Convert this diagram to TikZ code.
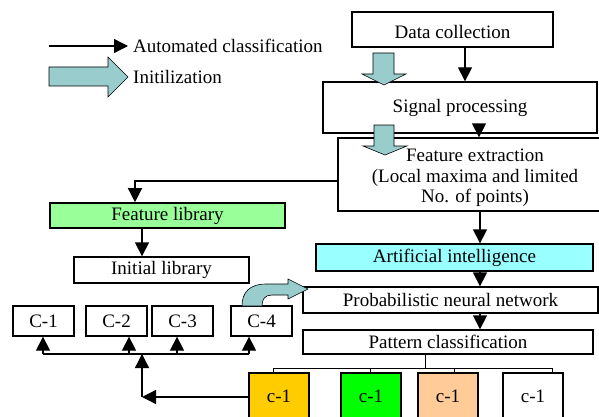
\documentclass[tikz,border=0pt]{standalone}
\usepackage{fontspec}
\setmainfont{Liberation Serif}
\usetikzlibrary{arrows.meta,calc}
\definecolor{tealc}{HTML}{99CCCC}
\definecolor{flgreen}{HTML}{99FF99}
\definecolor{aicyan}{HTML}{99FFFF}
\definecolor{yelc}{HTML}{FFCC00}
\definecolor{grnc}{HTML}{00FF00}
\definecolor{peachc}{HTML}{FFCC99}
\begin{document}
\begin{tikzpicture}[x=1pt,y=-1pt,
  box/.style={draw, line width=1.3pt, inner sep=0pt, font=\fontsize{19}{21}\selectfont},
  lbl/.style={inner sep=0pt, font=\fontsize{19}{21}\selectfont},
  arr/.style={line width=1.3pt, -{Triangle[width=14pt,length=14pt]}},
  thinline/.style={line width=0.9pt},
  tealarrow/.style={fill=tealc, draw=black, line width=0.6pt}]
\clip (0,0) rectangle (599,417);
\fill[white] (0,0) rectangle (599,417);

% legend
\coordinate (lg1) at (49,46);
\coordinate (lg2) at (128,46);
\node[lbl, anchor=west] (lgt1) at (133,46) {Automated classification};
\draw[arr] (lg1) -- (lg2);
\draw[tealarrow] (49,67) -- (108,67) -- (108,57) -- (128,77) -- (108,97) -- (108,86) -- (49,86) -- cycle;
\node[lbl, anchor=west] (lgt2) at (133,77) {Initilization};

% right column
\node[box, minimum width=201pt, minimum height=35pt] (dc) at (452.5,29.5) {};
\node[lbl] (dct) at (452.5,32.5) {Data collection};
\node[box, minimum width=274pt, minimum height=51pt] (sp) at (460,107.5) {Signal processing};
\node[box, minimum width=274pt, minimum height=73pt] (fe) at (475,174.5) {};
\node[lbl, align=center, font=\fontsize{19}{20.5}\selectfont] (fet) at (475,178)
      {Feature extraction\\(Local maxima and limited\\No. of points)};
\node[box, fill=aicyan, minimum width=277pt, minimum height=27pt] (ai) at (454.5,257.5) {Artificial intelligence};
\node[box, minimum width=295pt, minimum height=26pt] (pnn) at (450.5,300) {Probabilistic neural network};
\node[box, minimum width=290pt, minimum height=24pt] (pc) at (448,342) {Pattern classification};

% left column
\node[box, fill=flgreen, line width=1.6pt, minimum width=235pt, minimum height=25pt] (fl) at (167.5,215.5) {Feature library};
\node[box, minimum width=175pt, minimum height=26pt] (il) at (161.5,270) {Initial library};
\node[box, minimum width=61pt, minimum height=30pt] (C1) at (43.5,321) {C-1};
\node[box, minimum width=61pt, minimum height=30pt] (C2) at (116.5,321) {C-2};
\node[box, minimum width=61pt, minimum height=30pt] (C3) at (182.5,321) {C-3};
\node[box, minimum width=61pt, minimum height=30pt] (C4) at (261.5,321) {C-4};

% bottom classes
\node[box, fill=yelc, minimum width=60pt, minimum height=46pt] (k1) at (279,396) {c-1};
\node[box, fill=grnc, minimum width=60pt, minimum height=46pt] (k2) at (371,396) {c-1};
\node[box, fill=peachc, minimum width=60pt, minimum height=46pt] (k3) at (448,396) {c-1};
\node[box, minimum width=60pt, minimum height=46pt] (k4) at (533,396) {c-1};

% main flow arrows
\draw[arr] ([xshift=12.5pt]dc.south) -- ([xshift=5pt]sp.north);
\draw[arr] ([xshift=19pt]sp.south) -- ([xshift=4pt]fe.north);
\draw[arr] ([xshift=5pt]fe.south) -- ([xshift=25.5pt]ai.north);
\draw[arr] ([xshift=25.5pt]ai.south) -- ([xshift=29.5pt]pnn.north);
\draw[arr] ([xshift=29.5pt]pnn.south) -- ([xshift=32pt]pc.north);

% feature extraction to feature library
\coordinate (fk) at (135,181);
\draw[arr] (fe.west |- fk) -- (fk) -- (fk |- fl.north);
\draw[arr] ([xshift=-25.5pt]fl.south) -- ([xshift=-19.5pt]il.north);

% pattern classification tree
\coordinate (pt) at (425,368);
\coordinate (t1) at (273,368);
\coordinate (t2) at (370,368);
\coordinate (t3) at (454,368);
\coordinate (t4) at (552,368);
\draw[thinline] (pc.south -| pt) -- (pt);
\draw[thinline] (t1) -- (t4);
\draw[thinline] (t1) -- (t1 |- k1.north);
\draw[thinline] (t2) -- (t2 |- k2.north);
\draw[thinline] (t3) -- (t3 |- k3.north);
\draw[thinline] (t4) -- (t4 |- k4.north);

% feedback to classes
\coordinate (cr) at (142,397);
\coordinate (hb) at (142,354);
\coordinate (h1) at (43,354);
\coordinate (h2) at (129,354);
\coordinate (h3) at (177,354);
\coordinate (h4) at (249,354);
\draw[arr] (k1.west |- cr) -- (cr);
\draw[arr] (cr) -- (hb);
\draw[line width=1.3pt] (h1) -- (h4);
\draw[arr] (h1) -- (h1 |- C1.south);
\draw[arr] (h2) -- (h2 |- C2.south);
\draw[arr] (h3) -- (h3 |- C3.south);
\draw[arr] (h4) -- (h4 |- C4.south);

% initialization block arrows
\draw[tealarrow] (373,53) -- (394,53) -- (394,74) -- (406,74) -- (384,85) -- (362,74) -- (373,74) -- cycle;
\draw[tealarrow] (374,125) -- (394,125) -- (394,146) -- (407,146) -- (385,155) -- (363,146) -- (374,146) -- cycle;
\draw[tealarrow] (242,306) .. controls (242,292) and (250,284) .. (266,284) -- (288,284) -- (288,279)
   -- (308,289) -- (288,299) -- (288,295) -- (272,295) .. controls (265,295) and (262,299) .. (262,306) -- cycle;
\end{tikzpicture}
\end{document}
